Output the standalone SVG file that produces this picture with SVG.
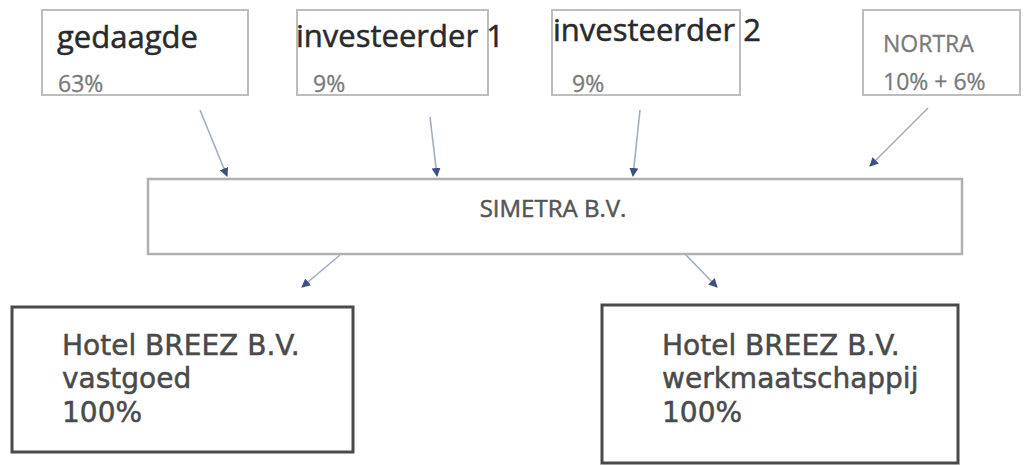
<svg xmlns="http://www.w3.org/2000/svg" width="1025" height="466" viewBox="0 0 1025 466">
<style>
.top{fill:#fff;stroke:#bdbdbd;stroke-width:2}
.mid{fill:#fff;stroke:#b0b0b0;stroke-width:2.5}
.bot{fill:#fff;stroke:#4a4a4a;stroke-width:3}
.big{font-family:"Open Sans",sans-serif;font-size:31px;fill:#2a2a2a;stroke:#2a2a2a;stroke-width:0.5}
.small{font-family:"Open Sans",sans-serif;font-size:23px;fill:#7a7a7a;stroke:#7a7a7a;stroke-width:0.3}
.simetra{font-family:"Open Sans",sans-serif;font-size:24px;fill:#555;stroke:#555;stroke-width:0.5}
.hotel{font-family:"DejaVu Sans",sans-serif;font-size:28px;fill:#4a4a4a;stroke:#4a4a4a;stroke-width:0.5}
.conn{stroke:#a3adc0;stroke-width:1.6;fill:none;marker-end:url(#ah)}
</style>
<defs>
<marker id="ah" markerUnits="userSpaceOnUse" markerWidth="12" markerHeight="12" refX="8" refY="4.5" orient="auto">
<path d="M0,0 L9,4.5 L0,9 z" fill="#3e5080"/>
</marker>
</defs>
<rect width="1025" height="466" fill="#fff"/>
<g id="gedaagde">
<rect class="top" x="42" y="10" width="206" height="85"/>
<text class="big" x="57" y="48">gedaagde</text>
<text class="small" x="58" y="92">63%</text>
</g>
<g id="investeerder1">
<rect class="top" x="297" y="10" width="191" height="85"/>
<text class="big" x="296" y="47">investeerder 1</text>
<text class="small" x="313" y="92">9%</text>
</g>
<g id="investeerder2">
<rect class="top" x="552" y="10" width="188" height="85"/>
<text class="big" x="553" y="41">investeerder 2</text>
<text class="small" x="572" y="92">9%</text>
</g>
<g id="nortra">
<rect class="top" x="863" y="10" width="157" height="85"/>
<text class="small" x="883" y="52">NORTRA</text>
<text class="small" x="883" y="90">10% + 6%</text>
</g>
<g id="simetra">
<rect class="mid" x="148" y="179" width="814" height="75"/>
<text class="simetra" x="553" y="217" text-anchor="middle">SIMETRA B.V.</text>
</g>
<g id="vastgoed">
<rect class="bot" x="12" y="307" width="341" height="145"/>
<text class="hotel" x="62" y="355">Hotel BREEZ B.V.</text>
<text class="hotel" x="62" y="388">vastgoed</text>
<text class="hotel" x="62" y="422">100%</text>
</g>
<g id="werkmaatschappij">
<rect class="bot" x="602" y="305" width="356" height="158"/>
<text class="hotel" x="662" y="355">Hotel BREEZ B.V.</text>
<text class="hotel" x="662" y="388">werkmaatschappij</text>
<text class="hotel" x="662" y="422">100%</text>
</g>
<g id="connectors">
<line class="conn" x1="200" y1="110" x2="227" y2="176"/>
<line class="conn" x1="430" y1="117" x2="437" y2="176"/>
<line class="conn" x1="640" y1="110" x2="633" y2="176"/>
<line class="conn" x1="928" y1="108" x2="870" y2="166"/>
<line class="conn" x1="340" y1="255" x2="302" y2="287"/>
<line class="conn" x1="685" y1="254" x2="717" y2="287"/>
</g>
</svg>
